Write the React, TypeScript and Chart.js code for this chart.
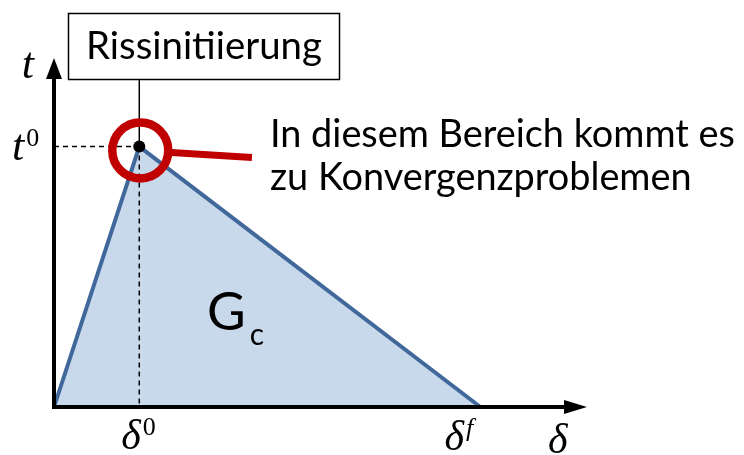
import { useEffect, useRef } from 'react';
import { Chart, registerables } from 'chart.js';

Chart.register(...registerables);

// Bilinear traction–separation law: origin, damage onset, complete failure
const separation = [0, 1, 5];
const traction = [0, 1, 0];
// Axis extents (arrow tips) in data units: [δ, t]
const axisLimits = [6.25, 1.34];
const axisTitles = ['δ', 't'];
// Tick labels as [base, superscript]: t⁰, δ⁰, δᶠ
const tickLabels = [
  ['t', '0'],
  ['δ', '0'],
  ['δ', 'f'],
];
const boxTitle = 'Rissinitiierung';
const noteLines = ['In diesem Bereich kommt es', 'zu Konvergenzproblemen'];
const areaLabel = ['G', 'c'];

const SANS = 'Lato, "Open Sans", sans-serif';
const SERIF = '"Liberation Serif", "DejaVu Serif", serif';

function fitSize(ctx: CanvasRenderingContext2D, text: string, style: string, family: string, width: number) {
  ctx.font = `${style} 100px ${family}`;
  return (100 * width) / ctx.measureText(text).width;
}

const annotate = {
  id: 'annotate',
  afterDatasetsDraw(chart: any) {
    const ctx: CanvasRenderingContext2D = chart.ctx;
    const xs = (v: number) => chart.scales.x.getPixelForValue(v);
    const ys = (v: number) => chart.scales.y.getPixelForValue(v);
    const ox = xs(0);
    const oy = ys(0);
    const px = xs(separation[1]);
    const py = ys(traction[1]);
    const fx = xs(separation[2]);
    const xTip = xs(axisLimits[0]);
    const yTip = ys(axisLimits[1]);

    ctx.save();

    // dashed guides to the peak
    ctx.strokeStyle = '#000';
    ctx.lineWidth = 1.5;
    ctx.setLineDash([5, 4]);
    ctx.beginPath();
    ctx.moveTo(ox, py);
    ctx.lineTo(px, py);
    ctx.moveTo(px, py);
    ctx.lineTo(px, oy);
    ctx.stroke();
    ctx.setLineDash([]);

    // axes with arrowheads
    ctx.lineWidth = 4;
    ctx.beginPath();
    ctx.moveTo(ox, oy + 2);
    ctx.lineTo(ox, yTip + 16);
    ctx.moveTo(ox - 2, oy);
    ctx.lineTo(xTip - 16, oy);
    ctx.stroke();
    ctx.fillStyle = '#000';
    ctx.beginPath();
    ctx.moveTo(ox, yTip);
    ctx.lineTo(ox - 8, yTip + 21);
    ctx.lineTo(ox + 8, yTip + 21);
    ctx.closePath();
    ctx.fill();
    ctx.beginPath();
    ctx.moveTo(xTip, oy);
    ctx.lineTo(xTip - 23, oy - 7);
    ctx.lineTo(xTip - 23, oy + 7);
    ctx.closePath();
    ctx.fill();

    // title box with connector to the peak
    const bx = 68.5, by = 13.5, bw = 271, bh = 66;
    ctx.lineWidth = 1.5;
    ctx.beginPath();
    ctx.moveTo(px, by + bh);
    ctx.lineTo(px, py);
    ctx.stroke();
    ctx.fillStyle = '#fff';
    ctx.fillRect(bx, by, bw, bh);
    ctx.strokeRect(bx, by, bw, bh);
    ctx.fillStyle = '#000';
    const boxSize = fitSize(ctx, boxTitle, 'normal', SANS, 236);
    ctx.font = `${boxSize}px ${SANS}`;
    ctx.textAlign = 'center';
    ctx.textBaseline = 'alphabetic';
    ctx.fillText(boxTitle, bx + bw / 2, 59);

    // red highlight ring and pointer
    ctx.strokeStyle = '#C00000';
    ctx.lineWidth = 8.5;
    ctx.beginPath();
    ctx.arc(px + 1, py + 4, 28, 0, Math.PI * 2);
    ctx.stroke();
    ctx.lineWidth = 7;
    ctx.beginPath();
    ctx.moveTo(px + 32, py + 6);
    ctx.lineTo(252, py + 11);
    ctx.stroke();

    // peak marker
    ctx.fillStyle = '#000';
    ctx.beginPath();
    ctx.arc(px, py, 6, 0, Math.PI * 2);
    ctx.fill();

    // note text
    const noteSize = fitSize(ctx, noteLines[0], 'normal', SANS, 465);
    ctx.font = `${noteSize}px ${SANS}`;
    ctx.textAlign = 'left';
    ctx.fillText(noteLines[0], 270, 147);
    ctx.fillText(noteLines[1], 270, 190);

    // area label G_c
    ctx.font = `53px ${SANS}`;
    ctx.fillText(areaLabel[0], 207, 330);
    const gw = ctx.measureText(areaLabel[0]).width;
    ctx.font = `30px ${SANS}`;
    ctx.fillText(areaLabel[1], 207 + gw + 4, 345);

    // axis titles
    ctx.font = `italic 44px ${SERIF}`;
    ctx.textAlign = 'right';
    ctx.fillText(axisTitles[1], ox - 20, yTip + 20);
    ctx.textAlign = 'left';
    ctx.font = `italic 42px ${SERIF}`;
    ctx.fillText(axisTitles[0], xTip - 39, oy + 46);

    // tick labels with superscripts
    const drawSup = (base: string, sup: string, x: number, y: number, baseSize: number, supItalic: boolean) => {
      ctx.textAlign = 'left';
      ctx.font = `italic ${baseSize}px ${SERIF}`;
      ctx.fillText(base, x, y);
      const w = ctx.measureText(base).width;
      ctx.font = `${supItalic ? 'italic ' : ''}26px ${SERIF}`;
      ctx.fillText(sup, x + w + 2, y - 14);
    };
    drawSup(tickLabels[0][0], tickLabels[0][1], ox - 42, py + 13, 44, false);
    drawSup(tickLabels[1][0], tickLabels[1][1], px - 18, oy + 42, 42, false);
    drawSup(tickLabels[2][0], tickLabels[2][1], fx - 36, oy + 43, 42, true);

    ctx.restore();
  },
};

export default function App() {
  const canvasRef = useRef<HTMLCanvasElement | null>(null);

  useEffect(() => {
    const canvas = canvasRef.current;
    if (!canvas) return;
    const chart = new Chart(canvas, {
      type: 'line',
      data: {
        datasets: [
          {
            data: separation.map((d, i) => ({ x: d, y: traction[i] })),
            borderColor: '#41689B',
            borderWidth: 4,
            backgroundColor: '#C9D9EC',
            fill: 'origin',
            pointRadius: 0,
            tension: 0,
            clip: false,
          },
        ],
      },
      options: {
        animation: false,
        responsive: false,
        maintainAspectRatio: false,
        devicePixelRatio: 1,
        layout: { padding: { left: 54, right: 157, top: 58, bottom: 48 } },
        scales: {
          x: { type: 'linear', min: 0, max: axisLimits[0], display: false },
          y: { type: 'linear', min: 0, max: axisLimits[1], display: false },
        },
        plugins: { legend: { display: false }, tooltip: { enabled: false } },
      },
      plugins: [annotate],
    });
    return () => chart.destroy();
  }, []);

  return (
    <div style={{ position: 'absolute', left: 0, top: 0, width: 744, height: 455, background: '#fff' }}>
      <canvas ref={canvasRef} width={744} height={455} />
    </div>
  );
}
